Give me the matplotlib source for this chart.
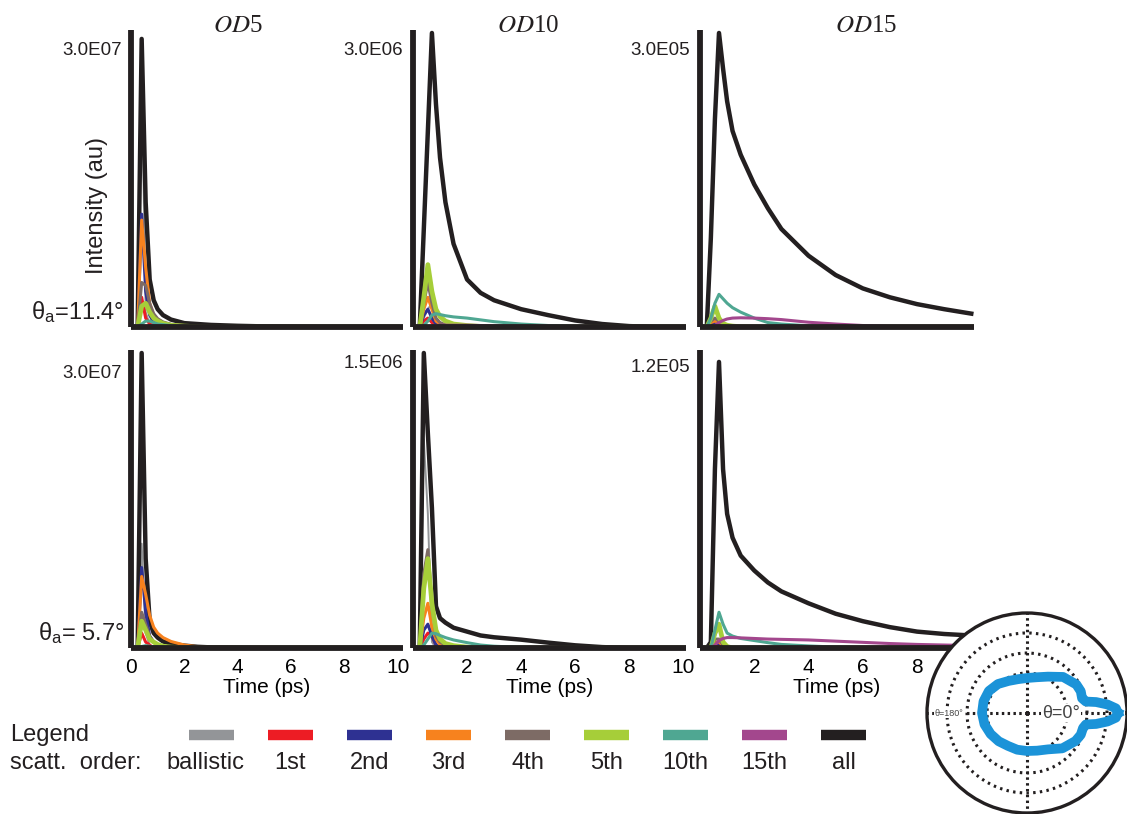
import matplotlib
matplotlib.use("Agg")
import matplotlib.pyplot as plt
import numpy as np

matplotlib.rcParams['font.family'] = ['Liberation Sans', 'DejaVu Sans']
matplotlib.rcParams['mathtext.fontset'] = 'custom'
matplotlib.rcParams['mathtext.rm'] = 'Liberation Sans'
matplotlib.rcParams['mathtext.it'] = 'Liberation Sans:italic'

# time grid shared by every curve (ps)
time_ps = [0.0, 0.25, 0.4, 0.55, 0.7, 0.85, 1.0, 1.2, 1.5, 2.0,
           2.5, 3.0, 4.0, 5.0, 6.0, 7.0, 8.0, 9.0, 10.0]

orders = ["ballistic", "1st", "2nd", "3rd", "4th", "5th", "10th", "15th", "all"]
order_colors = ["#939598", "#ed1c24", "#2e3192", "#f7821e", "#7d6b65",
                "#a6ce39", "#4fa792", "#a3478d", "#231f20"]

# intensities normalised to the panel maximum, rows follow `orders`
od5_wide = [
    [0, 0, 0.88, 0.05, 0.01, 0, 0, 0, 0, 0, 0, 0, 0, 0, 0, 0, 0, 0, 0],
    [0, 0, 0.10, 0.03, 0.01, 0.005, 0, 0, 0, 0, 0, 0, 0, 0, 0, 0, 0, 0, 0],
    [0, 0, 0.38, 0.12, 0.04, 0.015, 0.008, 0.004, 0.002, 0, 0, 0, 0, 0, 0, 0, 0, 0, 0],
    [0, 0, 0.36, 0.20, 0.08, 0.04, 0.025, 0.015, 0.008, 0.004, 0.002, 0.001, 0, 0, 0, 0, 0, 0, 0],
    [0, 0, 0.15, 0.14, 0.08, 0.045, 0.028, 0.017, 0.009, 0.005, 0.002, 0.001, 0, 0, 0, 0, 0, 0, 0],
    [0, 0, 0.07, 0.08, 0.05, 0.03, 0.02, 0.012, 0.006, 0.003, 0.001, 0, 0, 0, 0, 0, 0, 0, 0],
    [0, 0, 0.01, 0.02, 0.02, 0.015, 0.01, 0.008, 0.005, 0.002, 0.001, 0, 0, 0, 0, 0, 0, 0, 0],
    [0, 0, 0, 0.002, 0.003, 0.003, 0.003, 0.002, 0.002, 0.001, 0, 0, 0, 0, 0, 0, 0, 0, 0],
    [0, 0, 0.97, 0.42, 0.16, 0.09, 0.06, 0.04, 0.025, 0.013, 0.01, 0.007, 0.004, 0.002, 0.001, 0, 0, 0, 0],
]
od10_wide = [
    [0, 0, 0.03, 0.06, 0.08, 0.02, 0, 0, 0, 0, 0, 0, 0, 0, 0, 0, 0, 0, 0],
    [0, 0, 0.02, 0.03, 0.015, 0.005, 0, 0, 0, 0, 0, 0, 0, 0, 0, 0, 0, 0, 0],
    [0, 0, 0.04, 0.06, 0.03, 0.01, 0.004, 0, 0, 0, 0, 0, 0, 0, 0, 0, 0, 0, 0],
    [0, 0, 0.06, 0.10, 0.06, 0.02, 0.01, 0.005, 0, 0, 0, 0, 0, 0, 0, 0, 0, 0, 0],
    [0, 0, 0.08, 0.15, 0.08, 0.03, 0.015, 0.008, 0.004, 0, 0, 0, 0, 0, 0, 0, 0, 0, 0],
    [0, 0, 0.10, 0.21, 0.12, 0.06, 0.035, 0.02, 0.01, 0.005, 0.002, 0, 0, 0, 0, 0, 0, 0, 0],
    [0, 0, 0.005, 0.02, 0.04, 0.045, 0.042, 0.038, 0.034, 0.03, 0.024, 0.018, 0.01, 0.005, 0.002, 0.001, 0, 0, 0],
    [0, 0, 0, 0.001, 0.003, 0.005, 0.006, 0.006, 0.006, 0.006, 0.005, 0.004, 0.003, 0.002, 0.001, 0, 0, 0, 0],
    [0, 0, 0.33, 0.66, 0.99, 0.75, 0.57, 0.42, 0.28, 0.16, 0.115, 0.09, 0.06, 0.04, 0.022, 0.01, 0.003, 0, 0],
]
od15_wide = [
    [0, 0, 0.01, 0.02, 0.02, 0.01, 0, 0, 0, 0, 0, 0, 0, 0, 0, 0, 0, 0, 0],
    [0, 0, 0.005, 0.01, 0.005, 0, 0, 0, 0, 0, 0, 0, 0, 0, 0, 0, 0, 0, 0],
    [0, 0, 0.01, 0.015, 0.01, 0.005, 0, 0, 0, 0, 0, 0, 0, 0, 0, 0, 0, 0, 0],
    [0, 0, 0.015, 0.02, 0.015, 0.005, 0, 0, 0, 0, 0, 0, 0, 0, 0, 0, 0, 0, 0],
    [0, 0, 0.02, 0.03, 0.02, 0.01, 0.005, 0, 0, 0, 0, 0, 0, 0, 0, 0, 0, 0, 0],
    [0, 0, 0.03, 0.07, 0.03, 0.012, 0.006, 0.003, 0.001, 0, 0, 0, 0, 0, 0, 0, 0, 0, 0],
    [0, 0, 0.03, 0.08, 0.11, 0.095, 0.08, 0.065, 0.05, 0.03, 0.015, 0.01, 0.004, 0.001, 0, 0, 0, 0, 0],
    [0, 0, 0, 0.005, 0.015, 0.022, 0.027, 0.03, 0.031, 0.03, 0.028, 0.025, 0.016, 0.01, 0.005, 0.002, 0.001, 0, 0],
    [0, 0, 0.3, 0.7, 0.99, 0.87, 0.76, 0.66, 0.58, 0.48, 0.40, 0.33, 0.24, 0.175, 0.13, 0.10, 0.077, 0.06, 0.045],
]
od5_narrow = [
    [0, 0, 0.35, 0.05, 0.01, 0, 0, 0, 0, 0, 0, 0, 0, 0, 0, 0, 0, 0, 0],
    [0, 0, 0.05, 0.02, 0.01, 0, 0, 0, 0, 0, 0, 0, 0, 0, 0, 0, 0, 0, 0],
    [0, 0, 0.27, 0.12, 0.04, 0.02, 0.01, 0.005, 0.002, 0, 0, 0, 0, 0, 0, 0, 0, 0, 0],
    [0, 0, 0.24, 0.18, 0.11, 0.07, 0.05, 0.035, 0.022, 0.01, 0.004, 0.001, 0, 0, 0, 0, 0, 0, 0],
    [0, 0, 0.12, 0.08, 0.04, 0.02, 0.01, 0.005, 0.002, 0, 0, 0, 0, 0, 0, 0, 0, 0, 0],
    [0, 0, 0.09, 0.06, 0.03, 0.02, 0.012, 0.006, 0.003, 0.001, 0, 0, 0, 0, 0, 0, 0, 0, 0],
    [0, 0, 0.005, 0.008, 0.006, 0.004, 0.003, 0.002, 0.001, 0, 0, 0, 0, 0, 0, 0, 0, 0, 0],
    [0, 0, 0, 0.001, 0.001, 0.001, 0.001, 0, 0, 0, 0, 0, 0, 0, 0, 0, 0, 0, 0],
    [0, 0, 0.99, 0.30, 0.09, 0.05, 0.035, 0.022, 0.014, 0.008, 0.004, 0.002, 0.001, 0, 0, 0, 0, 0, 0],
]
od10_narrow = [
    [0, 0, 0.70, 0.45, 0.02, 0, 0, 0, 0, 0, 0, 0, 0, 0, 0, 0, 0, 0, 0],
    [0, 0, 0.03, 0.05, 0.04, 0.01, 0, 0, 0, 0, 0, 0, 0, 0, 0, 0, 0, 0, 0],
    [0, 0, 0.06, 0.08, 0.04, 0.01, 0.005, 0, 0, 0, 0, 0, 0, 0, 0, 0, 0, 0, 0],
    [0, 0, 0.10, 0.15, 0.07, 0.03, 0.01, 0.005, 0, 0, 0, 0, 0, 0, 0, 0, 0, 0, 0],
    [0, 0, 0.25, 0.33, 0.15, 0.04, 0.02, 0.01, 0.005, 0, 0, 0, 0, 0, 0, 0, 0, 0, 0],
    [0, 0, 0.20, 0.30, 0.15, 0.06, 0.03, 0.015, 0.008, 0.003, 0, 0, 0, 0, 0, 0, 0, 0, 0],
    [0, 0, 0.01, 0.03, 0.05, 0.048, 0.042, 0.035, 0.027, 0.018, 0.01, 0.006, 0.002, 0, 0, 0, 0, 0, 0],
    [0, 0, 0, 0.001, 0.002, 0.003, 0.003, 0.003, 0.003, 0.002, 0.002, 0.001, 0, 0, 0, 0, 0, 0, 0],
    [0, 0, 0.99, 0.72, 0.47, 0.14, 0.10, 0.085, 0.068, 0.055, 0.042, 0.036, 0.028, 0.018, 0.009, 0.003, 0, 0, 0],
]
od15_narrow = [
    [0, 0, 0, 0.04, 0.07, 0.02, 0, 0, 0, 0, 0, 0, 0, 0, 0, 0, 0, 0, 0],
    [0, 0, 0, 0.01, 0.01, 0.005, 0, 0, 0, 0, 0, 0, 0, 0, 0, 0, 0, 0, 0],
    [0, 0, 0, 0.015, 0.015, 0.005, 0, 0, 0, 0, 0, 0, 0, 0, 0, 0, 0, 0, 0],
    [0, 0, 0, 0.02, 0.02, 0.008, 0, 0, 0, 0, 0, 0, 0, 0, 0, 0, 0, 0, 0],
    [0, 0, 0, 0.03, 0.03, 0.01, 0.004, 0, 0, 0, 0, 0, 0, 0, 0, 0, 0, 0, 0],
    [0, 0, 0, 0.05, 0.08, 0.02, 0.005, 0, 0, 0, 0, 0, 0, 0, 0, 0, 0, 0, 0],
    [0, 0, 0, 0.06, 0.12, 0.08, 0.05, 0.04, 0.032, 0.025, 0.018, 0.012, 0.007, 0.003, 0.001, 0, 0, 0, 0],
    [0, 0, 0, 0.01, 0.025, 0.032, 0.035, 0.035, 0.034, 0.032, 0.03, 0.029, 0.027, 0.023, 0.019, 0.015, 0.012, 0.01, 0.008],
    [0, 0, 0.02, 0.60, 0.96, 0.60, 0.45, 0.37, 0.31, 0.26, 0.22, 0.19, 0.15, 0.115, 0.09, 0.07, 0.055, 0.047, 0.042],
]

column_titles = ["5", "10", "15"]
peak_labels_wide = ["3.0E07", "3.0E06", "3.0E05"]
peak_labels_narrow = ["3.0E07", "1.5E06", "1.2E05"]
row_angles = ["11.4°", " 5.7°"]
time_ticks_first = [0, 2, 4, 6, 8, 10]
time_ticks_other = [2, 4, 6, 8, 10]

# angular distribution shown in the inset (deg, relative radius)
inset_angle_deg = [0, 3, 6, 9, 11, 15, 22, 30, 45, 60, 75, 90, 105, 120, 135,
                   150, 165, 180, 195, 210, 225, 240, 255, 270, 285, 300, 315,
                   330, 338, 345, 349, 351, 354, 357, 360]
inset_radius = [0.91, 0.89, 0.81, 0.70, 0.60, 0.57, 0.58, 0.57, 0.51, 0.42,
                0.37, 0.35, 0.35, 0.37, 0.41, 0.44, 0.45, 0.45, 0.44, 0.42,
                0.40, 0.38, 0.38, 0.38, 0.39, 0.42, 0.50, 0.56, 0.58, 0.58,
                0.60, 0.70, 0.81, 0.89, 0.91]

W, H = 1127, 814
fig = plt.figure(figsize=(W / 100, H / 100), dpi=100)


def px_rect(left, top, right, bottom):
    return [left / W, 1 - bottom / H, (right - left) / W, (bottom - top) / H]


col_px = [(131, 403, 10.2), (413, 686, 10.1), (700, 974, 10.1)]
row_px = [(30, 327), (350, 648)]
panels = [[od5_wide, od10_wide, od15_wide], [od5_narrow, od10_narrow, od15_narrow]]
peak_labels = [peak_labels_wide, peak_labels_narrow]
label_y = [[0.93, 0.93, 0.93], [0.92, 0.955, 0.94]]

for r, (top, bottom) in enumerate(row_px):
    for c, (left, right, xmax) in enumerate(col_px):
        ax = fig.add_axes(px_rect(left, top, right, bottom))
        data = panels[r][c]
        # ballistic sits under the total, other orders on top of it
        ax.plot(time_ps, data[0], color=order_colors[0], lw=1.4, zorder=1.8)
        ax.plot(time_ps, data[-1], color=order_colors[-1], lw=3.2,
                solid_joinstyle='round', zorder=1.9)
        for k in range(1, len(orders) - 1):
            lw = 3.4 if orders[k] == "5th" else 2.2
            ax.plot(time_ps, data[k], color=order_colors[k], lw=lw,
                    solid_joinstyle='round', zorder=2 + k * 0.01)
        ax.set_xlim(0, xmax)
        ax.set_ylim(0, 1.0)
        for s in ['top', 'right']:
            ax.spines[s].set_visible(False)
        for s in ['left', 'bottom']:
            ax.spines[s].set_linewidth(4.2)
            ax.spines[s].set_color('#231f20')
            ax.spines[s].set_capstyle('butt')
        ax.set_yticks([])
        if r == 1:
            ax.set_xticks(time_ticks_first if c == 0 else time_ticks_other)
            ax.tick_params(axis='x', length=0, labelsize=15, pad=7)
            ax.set_xlabel("Time (ps)", fontsize=15, labelpad=1)
        else:
            ax.set_xticks([])
        ax.text(-0.035, label_y[r][c], peak_labels[r][c], transform=ax.transAxes,
                ha='right', va='center', fontsize=13.5, color='#231f20')

title_x = [238, 528, 866]
for c, num in enumerate(column_titles):
    fig.text(title_x[c] / W, 1 - 26 / H, r'$\mathit{OD}$' + num, ha='center',
             va='center', fontsize=18, family='Liberation Serif',
             math_fontfamily='stix', color='#231f20')

fig.text(97 / W, 1 - 205 / H, "Intensity (au)", rotation=90, ha='center',
         va='center', fontsize=17, color='#231f20')
angle_y = [312, 633]
for r, txt in enumerate(row_angles):
    fig.text(124 / W, 1 - angle_y[r] / H, r'$\mathrm{\theta}_\mathrm{a}$=' + txt,
             ha='right', va='center', fontsize=17, color='#231f20')

# legend row
fig.text(10 / W, 1 - 735 / H, "Legend", ha='left', va='center', fontsize=17,
         color='#231f20')
fig.text(10 / W, 1 - 763 / H, "scatt.  order:", ha='left', va='center',
         fontsize=17, color='#231f20')
lax = fig.add_axes(px_rect(172, 720, 883, 780))
lax.set_xlim(-0.5, len(orders) - 0.5)
lax.set_ylim(0, 1)
lax.axis('off')
for i, name in enumerate(orders):
    lax.plot([i - 0.28, i + 0.28], [0.75, 0.75], color=order_colors[i], lw=7.5,
             solid_capstyle='butt')
    lax.text(i - 0.08 if i == 0 else i, 0.28, name, ha='center', va='center',
             fontsize=17, color='#231f20')

# polar inset
pax = fig.add_axes(px_rect(927, 613, 1127, 813), projection='polar')
pax.set_facecolor('white')
pax.plot(np.deg2rad(inset_angle_deg), inset_radius, color='#1b93d8', lw=7,
         solid_joinstyle='round', zorder=3)
pax.set_ylim(0, 1)
pax.set_rgrids([0.4, 0.6, 0.8], labels=[''] * 3)
pax.set_thetagrids([0, 90, 180, 270], labels=[''] * 4)
pax.yaxis.grid(True, color='#231f20', lw=2.2, linestyle=(0, (0.8, 1.4)))
pax.xaxis.grid(True, color='#231f20', lw=2.2, linestyle=(0, (0.8, 1.1)))
pax.spines['polar'].set_linewidth(2.4)
pax.spines['polar'].set_color('#231f20')
pax.text(0, 0.34, "θ=0°", ha='center', va='center', fontsize=13, color='#444444',
         bbox=dict(facecolor='white', edgecolor='none', pad=0.5), zorder=5)
pax.text(np.pi, 0.78, "θ=180°", ha='center', va='center', fontsize=6.5,
         color='#444444', bbox=dict(facecolor='white', edgecolor='none', pad=0.3),
         zorder=5)

fig.savefig("out.png", dpi=100)
